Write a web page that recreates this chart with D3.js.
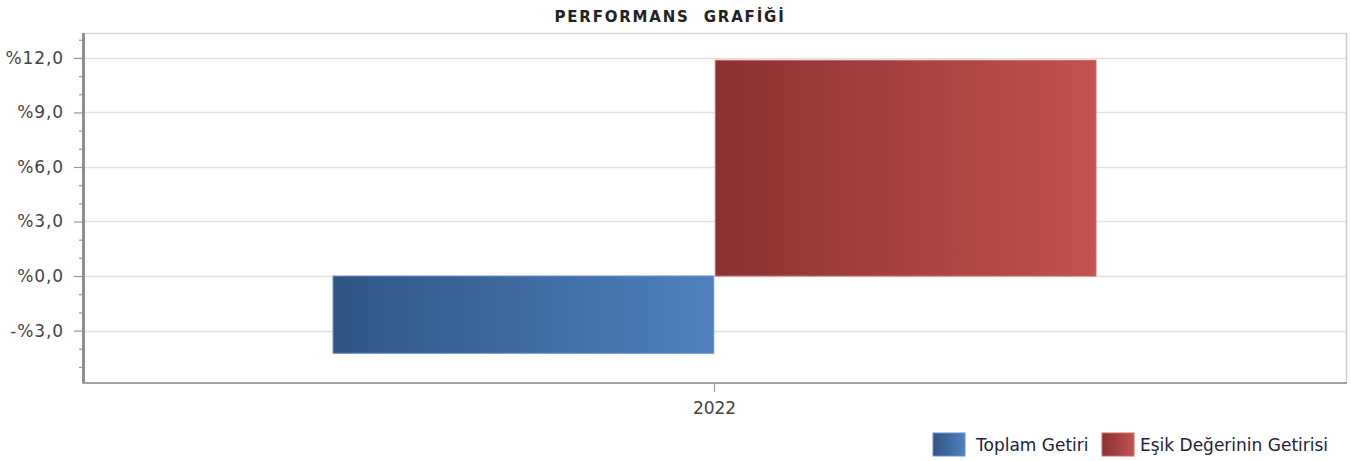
<!DOCTYPE html>
<html>
<head>
<meta charset="utf-8">
<script src="https://cdn.jsdelivr.net/npm/d3@7"></script>
<style>
  html, body { margin: 0; padding: 0; background: #fff; }
  svg { display: block; font-family: "DejaVu Sans", sans-serif; }
</style>
</head>
<body>
<svg id="chart" width="1351" height="461"></svg>
<script>
const title = "PERFORMANS  GRAFİĞİ";
const categories = ["2022"];
const seriesNames = ["Toplam Getiri", "Eşik Değerinin Getirisi"];
const toplamGetiri = [-4.25];
const esikGetirisi = [11.87];
const yMajorTicks = [-3, 0, 3, 6, 9, 12];
const yMinorTicks = [-5, -4, -2, -1, 1, 2, 4, 5, 7, 8, 10, 11, 13];
const seriesColors = [
  { dark: "#2f5585", light: "#4f81bf", stroke: "#6a8fc4" },
  { dark: "#8a3232", light: "#c2524f", stroke: "#cc6b68" }
];

const svg = d3.select("#chart");
const m = { left: 83, right: 1346, top: 33, bottom: 382 };

const y = d3.scaleLinear().domain([-5.83, 13.37]).range([m.bottom, m.top]);
const x0 = d3.scaleBand().domain(categories).range([m.left, m.right]).paddingInner(0).paddingOuter(0.3277);
const x1 = d3.scaleBand().domain(seriesNames).range([0, x0.bandwidth()]).paddingInner(0.004);

const fmt = v => (v < 0 ? "-%" : "%") + d3.format(".1f")(Math.abs(v)).replace(".", ",");

// gradients
const defs = svg.append("defs");
seriesColors.forEach((c, i) => {
  const g = defs.append("linearGradient").attr("id", "grad" + i)
    .attr("x1", "0%").attr("x2", "100%").attr("y1", "0%").attr("y2", "0%");
  g.append("stop").attr("offset", "0%").attr("stop-color", c.dark);
  g.append("stop").attr("offset", "100%").attr("stop-color", c.light);
});

// title
svg.append("text").attr("x", 670).attr("y", 22).attr("text-anchor", "middle")
  .attr("font-size", 15).attr("font-weight", "bold").attr("letter-spacing", 1.8)
  .attr("fill", "#222").style("white-space", "pre").text(title);

// plot border (top/right)
svg.append("line").attr("x1", m.left).attr("x2", m.right).attr("y1", m.top + 0.5).attr("y2", m.top + 0.5)
  .attr("stroke", "#d8d8d8").attr("stroke-width", 1.5);
svg.append("line").attr("x1", m.right + 0.5).attr("x2", m.right + 0.5).attr("y1", m.top).attr("y2", m.bottom)
  .attr("stroke", "#cfcfcf").attr("stroke-width", 1.5);

// grid
svg.append("g").selectAll("line").data(yMajorTicks).join("line")
  .attr("x1", m.left).attr("x2", m.right)
  .attr("y1", d => Math.round(y(d)) + 0.5).attr("y2", d => Math.round(y(d)) + 0.5)
  .attr("stroke", "#e2e2e2").attr("stroke-width", 1.5);

// bars
const data = categories.map((c, i) => ({ cat: c, vals: [toplamGetiri[i], esikGetirisi[i]] }));
const grp = svg.append("g").selectAll("g").data(data).join("g")
  .attr("transform", d => `translate(${x0(d.cat)},0)`);
grp.selectAll("rect").data(d => d.vals.map((v, i) => ({ v, i, s: seriesNames[i] }))).join("rect")
  .attr("x", d => x1(d.s))
  .attr("width", x1.bandwidth())
  .attr("y", d => Math.min(y(0), y(d.v)))
  .attr("height", d => Math.abs(y(d.v) - y(0)))
  .attr("fill", d => `url(#grad${d.i})`)
  .attr("stroke", d => seriesColors[d.i].stroke).attr("stroke-width", 1);

// y axis
const yAxis = d3.axisLeft(y).tickValues(yMajorTicks).tickSize(9).tickPadding(10).tickFormat(fmt);
const ya = svg.append("g").attr("transform", `translate(${m.left},0)`).call(yAxis);
ya.select(".domain").remove();
ya.selectAll(".tick line").attr("stroke", "#999").attr("stroke-width", 1.2);
ya.selectAll(".tick text").attr("font-size", 17).attr("fill", "#444")
  .attr("font-family", "DejaVu Sans").attr("letter-spacing", 0.9);
const yMinor = d3.axisLeft(y).tickValues(yMinorTicks).tickSize(4).tickFormat("");
const ym = svg.append("g").attr("transform", `translate(${m.left},0)`).call(yMinor);
ym.select(".domain").remove();
ym.selectAll(".tick line").attr("stroke", "#999").attr("stroke-width", 1.2);
svg.append("line").attr("x1", m.left + 0.5).attr("x2", m.left + 0.5).attr("y1", m.top).attr("y2", m.bottom + 1.5)
  .attr("stroke", "#8f8f8f").attr("stroke-width", 3);

// x axis
const xAxis = d3.axisBottom(x0).tickSize(9).tickPadding(10);
const xa = svg.append("g").attr("transform", `translate(0,${m.bottom + 1})`).call(xAxis);
xa.select(".domain").remove();
xa.selectAll(".tick line").attr("stroke", "#999").attr("stroke-width", 1.2);
xa.selectAll(".tick text").attr("font-size", 17).attr("fill", "#444").attr("font-family", "DejaVu Sans");
svg.append("line").attr("x1", m.left).attr("x2", m.right + 1).attr("y1", m.bottom + 1).attr("y2", m.bottom + 1)
  .attr("stroke", "#a0a0a0").attr("stroke-width", 2);

// legend
const legendItems = [
  { name: seriesNames[0], sx: 933, tx: 976, i: 0 },
  { name: seriesNames[1], sx: 1102, tx: 1140, i: 1 }
];
const lg = svg.append("g").selectAll("g").data(legendItems).join("g");
lg.append("rect").attr("x", d => d.sx).attr("y", 433).attr("width", 32).attr("height", 23)
  .attr("fill", d => `url(#grad${d.i})`).attr("stroke", d => seriesColors[d.i].stroke).attr("stroke-width", 1);
lg.append("text").attr("x", d => d.tx).attr("y", 451).attr("font-size", 17).attr("fill", "#22223a")
  .text(d => d.name);
</script>
</body>
</html>
